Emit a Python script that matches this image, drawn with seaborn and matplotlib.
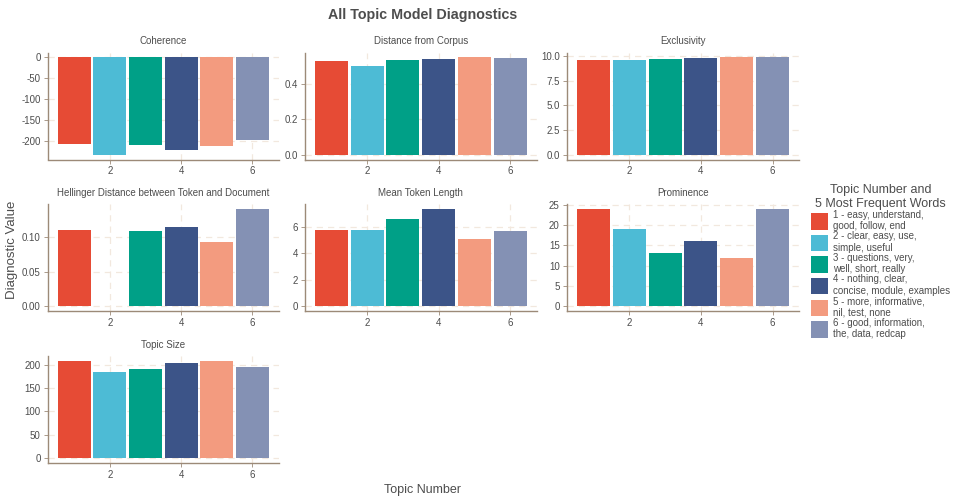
import numpy as np
import pandas as pd
import matplotlib
matplotlib.use('Agg')
import matplotlib.pyplot as plt
import seaborn as sns
from matplotlib.patches import Patch

sns.set_theme(style='white')
plt.rcParams['font.family'] = ['Liberation Sans', 'DejaVu Sans']

topics = [1, 2, 3, 4, 5, 6]
topic_labels = ['1 - easy, understand,\ngood, follow, end',
                '2 - clear, easy, use,\nsimple, useful',
                '3 - questions, very,\nwell, short, really',
                '4 - nothing, clear,\nconcise, module, examples',
                '5 - more, informative,\nnil, test, none',
                '6 - good, information,\nthe, data, redcap']
colors = ['#E64B35', '#4DBBD5', '#00A087', '#3C5488', '#F39B7F', '#8491B4']

metric_names = ['Coherence', 'Distance from Corpus', 'Exclusivity',
                'Hellinger Distance between Token and Document',
                'Mean Token Length', 'Prominence', 'Topic Size']
coherence = [-206, -232, -209, -220.5, -211, -197]
distance_corpus = [0.530, 0.503, 0.535, 0.541, 0.552, 0.546]
exclusivity = [9.63, 9.56, 9.66, 9.76, 9.87, 9.87]
hellinger = [0.110, 0.0, 0.1086, 0.1144, 0.0928, 0.1407]
mean_token_len = [5.80, 5.80, 6.63, 7.39, 5.12, 5.72]
prominence = [24.0, 19.1, 13.2, 16.1, 11.97, 24.0]
topic_size = [208, 184, 191, 203, 208, 195]
metric_values = [coherence, distance_corpus, exclusivity, hellinger,
                 mean_token_len, prominence, topic_size]

y_ticks = [[-200, -150, -100, -50, 0], [0, 0.2, 0.4], [0, 2.5, 5, 7.5, 10],
           [0, 0.05, 0.10], [0, 2, 4, 6], [0, 5, 10, 15, 20, 25],
           [0, 50, 100, 150, 200]]
y_fmt = ['{:.0f}', '{:.1f}', '{:.1f}', '{:.2f}', '{:.0f}', '{:.0f}', '{:.0f}']

W, H = 959, 497
fig = plt.figure(figsize=(W / 100, H / 100), dpi=100)

# panel pixel boxes (left, right) per column, (top, bottom) per row
cols = [(47.7, 279), (304.7, 536.7), (566.7, 799.3)]
rows = [(52.5, 159.5), (204, 311), (356, 463)]

txt = '#4D4D4D'
axis_col = '#9C8A78'
grid_col = '#F2E8DE'

for i, (name, vals) in enumerate(zip(metric_names, metric_values)):
    r, c = divmod(i, 3)
    l, rr = cols[c]
    t, b = rows[r]
    ax = fig.add_axes([l / W, 1 - b / H, (rr - l) / W, (b - t) / H])
    d = pd.DataFrame({'topic': topics, 'value': vals, 'label': topic_labels})
    sns.barplot(data=d, x='topic', y='value', hue='label', hue_order=topic_labels,
                palette=colors, native_scale=True, dodge=False, width=0.92,
                saturation=1, errorbar=None, legend=False, ax=ax, zorder=2,
                linewidth=0, edgecolor='none')
    lo, hi = min(0, min(vals)), max(0, max(vals))
    pad = 0.05 * (hi - lo)
    ax.set_ylim(lo - pad, hi + pad)
    ax.set_xlim(0.255, 6.745)
    ax.set_xticks([2, 4, 6])
    ax.set_xticklabels(['2', '4', '6'])
    ax.set_yticks(y_ticks[i])
    ax.set_yticklabels([y_fmt[i].format(v) for v in y_ticks[i]])
    ax.set_xlabel('')
    ax.set_ylabel('')
    ax.set_title(name, fontsize=7, color=txt, pad=6)
    ax.grid(True, linestyle=(0, (5, 4)), color=grid_col, linewidth=0.9, zorder=0)
    ax.set_axisbelow(True)
    for s in ['top', 'right']:
        ax.spines[s].set_visible(False)
    for s in ['left', 'bottom']:
        ax.spines[s].set_color(axis_col)
        ax.spines[s].set_linewidth(1.0)
    ax.tick_params(axis='both', labelsize=7, colors=axis_col, labelcolor=txt,
                   length=3, width=0.6, pad=2, left=True, bottom=True)

fig.text(423 / W, 1 - 15 / H, 'All Topic Model Diagnostics', ha='center', va='center',
         fontsize=10.3, fontweight='bold', color=txt)
fig.text(423 / W, 1 - 490 / H, 'Topic Number', ha='center', va='center',
         fontsize=9, color=txt)
fig.text(12 / W, 1 - 250 / H, 'Diagnostic Value', ha='center', va='center',
         rotation=90, fontsize=9.5, color=txt)

handles = [Patch(facecolor=col, edgecolor='none') for col in colors]
leg = fig.legend(handles, topic_labels, loc='upper left',
                 bbox_to_anchor=(804 / W, 1 - 177 / H), frameon=False,
                 fontsize=7, title='Topic Number and\n5 Most Frequent Words',
                 title_fontsize=9, handlelength=1.8, handleheight=2.2,
                 handletextpad=0.45, labelspacing=0.0, borderpad=0.2,
                 alignment='center')
for tx in leg.get_texts():
    tx.set_color(txt)
leg.get_title().set_color(txt)
leg.get_title().set_multialignment('center')

fig.savefig('out.png', dpi=100)
